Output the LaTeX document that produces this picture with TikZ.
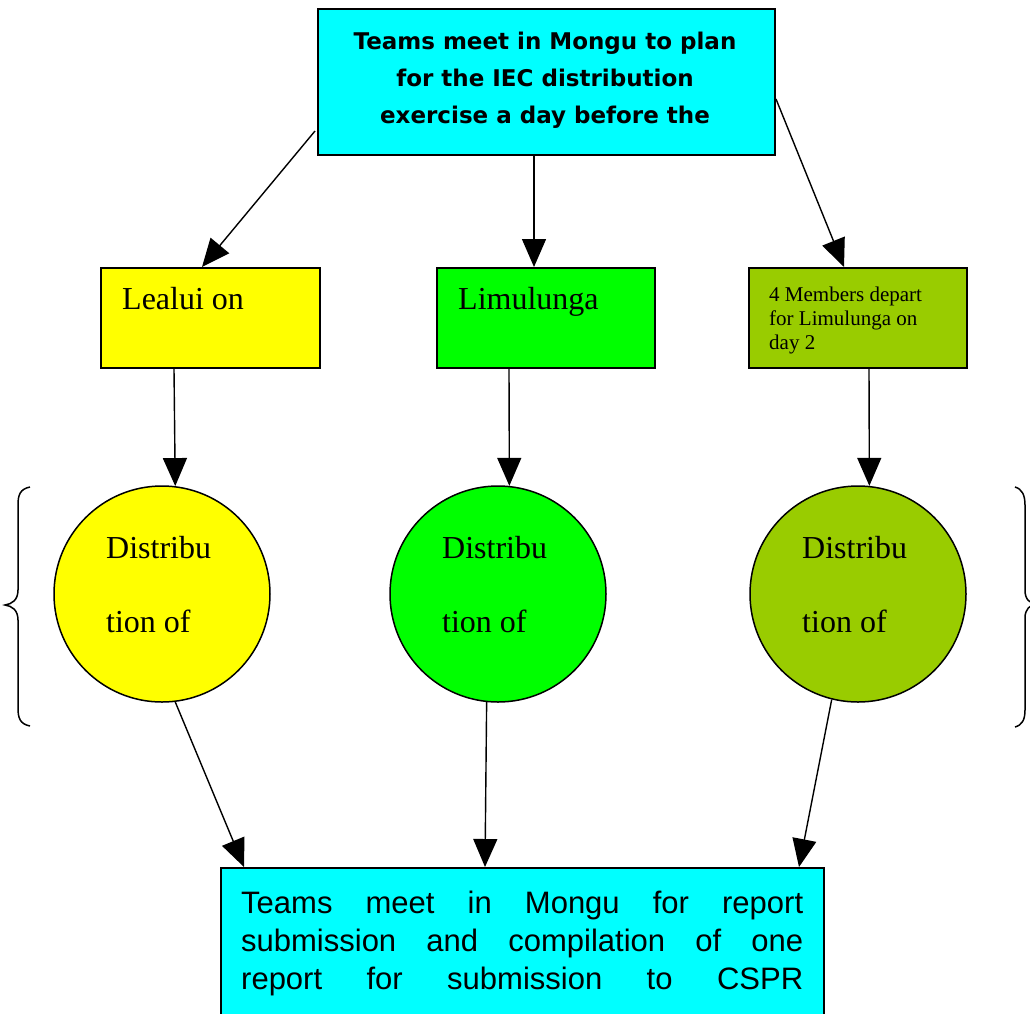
\documentclass[tikz,border=0pt]{standalone}
\usepackage{fontspec}
\setmainfont{Liberation Serif}
\newfontfamily\topfont{DejaVu Sans}
\newfontfamily\botfont{Liberation Sans}
\usetikzlibrary{arrows.meta,calc}
\definecolor{cyanbox}{HTML}{00FFFF}
\definecolor{yelbox}{HTML}{FFFF00}
\definecolor{grnbox}{HTML}{00FF00}
\definecolor{olvbox}{HTML}{99CC00}
\begin{document}
\begin{tikzpicture}[x=1pt,y=-1pt,
  boxshape/.style={draw=black,line width=2pt,rectangle,inner sep=0pt},
  circshape/.style={draw=black,line width=1.5pt,circle,inner sep=0pt,minimum size=216pt},
  conn/.style={line width=1.4pt,-{Triangle[length=28pt,width=24pt]}},
  brace/.style={line width=1.5pt},
  bigtext/.style={font=\fontsize{32}{36}\selectfont,anchor=base west,inner sep=0pt},
  toptext/.style={font=\topfont\bfseries\fontsize{23}{37}\selectfont,align=center,anchor=base,inner sep=0pt},
  bottext/.style={font=\botfont\fontsize{31}{38}\selectfont,align=left,anchor=base west,inner sep=0pt}]
\useasboundingbox (0,0) rectangle (1030,1013);
% boxes
\node[boxshape,fill=cyanbox,minimum width=457pt,minimum height=146pt] (top) at (546.5,82) {};
\node[boxshape,fill=yelbox,minimum width=219pt,minimum height=100pt] (lb) at (210.5,318) {};
\node[boxshape,fill=grnbox,minimum width=218pt,minimum height=100pt] (mb) at (546,318) {};
\node[boxshape,fill=olvbox,minimum width=218pt,minimum height=100pt] (rb) at (858,318) {};
\node[circshape,fill=yelbox] (lc) at (162,594) {};
\node[circshape,fill=grnbox] (mc) at (498,594) {};
\node[circshape,fill=olvbox] (rc) at (858,594) {};
\node[boxshape,fill=cyanbox,minimum width=603pt,minimum height=172pt] (bot) at (522.5,954) {};
% texts (multi-line nodes: base anchor is the last line's baseline)
\node[toptext] (toptx) at (545,123) {Teams meet in Mongu to plan\\for the IEC distribution\\exercise a day before the};
\node[bigtext] (lbtx) at (122,309) {Lealui on};
\node[bigtext] (mbtx) at (458,309) {Limulunga};
\node[font=\fontsize{21}{24}\selectfont,align=left,anchor=base west,inner sep=0pt] (rbtx) at (769,349) {4 Members depart\\for Limulunga on\\day 2};
\node[bigtext] (lct1) at (106,558) {Distribu};
\node[bigtext] (lct2) at (106,632) {tion of};
\node[bigtext] (mct1) at (442,558) {Distribu};
\node[bigtext] (mct2) at (442,632) {tion of};
\node[bigtext] (rct1) at (802,558) {Distribu};
\node[bigtext] (rct2) at (802,632) {tion of};
\node[bottext] (bottx) at (241,989) {%
\makebox[562pt][s]{Teams\hfill meet\hfill in\hfill Mongu\hfill for\hfill report}\\
\makebox[562pt][s]{submission\hfill and\hfill compilation\hfill of\hfill one}\\
\makebox[562pt][s]{report\hfill for\hfill submission\hfill to\hfill CSPR}};
% connectors
\draw[conn] ($(top.north west)+(-2,123)$) -- ($(lb.north west)+(102,0)$);
\draw[conn] ($(top.south west)+(217,0)$) -- ($(mb.north west)+(98,0)$);
\draw[conn] ($(top.north east)+(0,91)$) -- ($(rb.north west)+(96,0)$);
\draw[conn] ($(lb.south west)+(74,0)$) -- (lc.83);
\draw[conn] ($(mb.south west)+(73,0)$) -- (mc.84);
\draw[conn] ($(rb.south west)+(121,0)$) -- (rc.84);
\draw[conn] (lc.-83) -- ($(bot.north west)+(24,0)$);
\draw[conn] (mc.-96) -- ($(bot.north west)+(265,0)$);
\draw[conn] (rc.-104) -- ($(bot.north west)+(579,0)$);
% braces
\draw[brace] (30,487) .. controls (20,489) and (18,495) .. (18,505)
  -- (18,590) .. controls (18,600) and (12,604) .. (5,605)
  .. controls (12,606) and (18,610) .. (18,620)
  -- (18,708) .. controls (18,718) and (20,724) .. (30,726);
\draw[brace] (1015,487) .. controls (1022,489) and (1025,495) .. (1025,505)
  -- (1025,590) .. controls (1025,600) and (1030,603) .. (1036,604)
  .. controls (1030,605) and (1025,609) .. (1025,618)
  -- (1025,710) .. controls (1025,720) and (1022,725) .. (1015,727);
\end{tikzpicture}
\end{document}
